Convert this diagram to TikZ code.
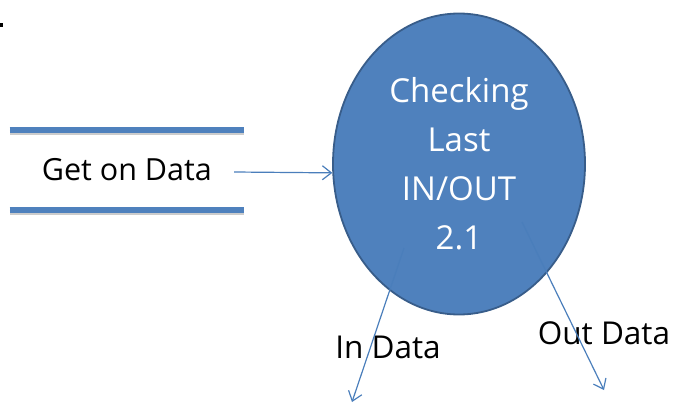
\documentclass[tikz,border=0pt]{standalone}
\usepackage{fontspec}
\setmainfont{Open Sans}
\usetikzlibrary{shapes.geometric, arrows.meta, positioning}

\definecolor{procblue}{RGB}{79,129,189}
\definecolor{procedge}{RGB}{56,93,138}
\definecolor{flowblue}{RGB}{74,126,187}

\begin{document}
\begin{tikzpicture}[x=1pt, y=-1pt, >={Straight Barb[length=9pt, width=14pt]}]
        \tikzstyle{process} = [ellipse, draw=procedge, line width=1.8pt, fill=procblue, text=white, minimum width=252pt, minimum height=301pt, inner sep=0pt, align=center, font=\fontsize{33}{49}\selectfont]
        \tikzstyle{store} = [minimum width=234pt, minimum height=80pt, inner sep=0pt, font=\fontsize{30.5}{34}\selectfont]
        \tikzstyle{storeline} = [procblue, line width=5.5pt, preaction={draw=black!20, line width=5.5pt, transform canvas={yshift=-2.5pt}}]
        \tikzstyle{flow} = [->, flowblue, line width=1.2pt]
        \tikzstyle{label} = [font=\fontsize{31.5}{36}\selectfont, inner sep=0pt]

        \useasboundingbox (0,0) rectangle (677,404);
        \fill (0,23) rectangle (3,27);

        \node [process] (check) at (459,164) {Checking\\Last\\IN/OUT\\2.1};
        \node [store, left=88pt of check, yshift=-6pt] (store) {\raisebox{-6pt}{Get on Data}};
        \draw [storeline] (store.north west) -- (store.north east);
        \draw [storeline] (store.south west) -- (store.south east);

        \coordinate (indata) at (352,402);
        \coordinate (outdata) at (604,390);
        \node [label] (inlabel) at (388,347) {In Data};
        \node [label] (outlabel) at (604,333) {Out Data};

        \draw [flow] ([xshift=-10pt, yshift=-2pt]store.east) -- (check.184);
        \draw [flow] ([shift={(-55,84)}]check.center) -- (indata);
        \draw [flow] ([shift={(63,58)}]check.center) -- (outdata);
    \end{tikzpicture}
\end{document}
